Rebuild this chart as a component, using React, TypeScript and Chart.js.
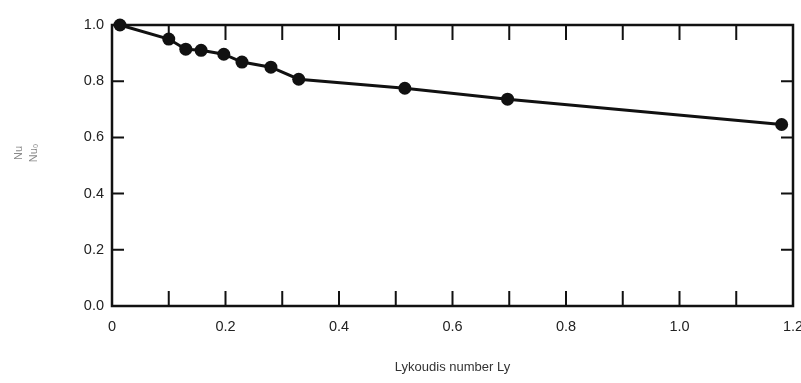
import React, { useEffect, useRef } from 'react';
import { Chart, registerables } from 'chart.js';

Chart.register(...registerables);

// Lykoudis number (x) vs Nu/Nu0 (y)
const lyValues = [0.014, 0.1, 0.13, 0.157, 0.197, 0.229, 0.28, 0.329, 0.516, 0.697, 1.18];
const nuRatio = [1.0, 0.95, 0.914, 0.91, 0.896, 0.868, 0.85, 0.807, 0.775, 0.736, 0.646];
const xTickLabels = ['0', '0.2', '0.4', '0.6', '0.8', '1.0', '1.2'];
const yTickLabels = ['0.0', '0.2', '0.4', '0.6', '0.8', '1.0'];
const xTitle = 'Lykoudis number Ly';
const yTitleTop = 'Nu';
const yTitleBottom = 'Nu\u2080';

const framePlugin = {
  id: 'frameTicks',
  beforeDatasetsDraw(chart: any) {
    const { ctx, chartArea, scales } = chart;
    const { left, right, top, bottom } = chartArea;
    const xs = scales.x;
    const ys = scales.y;
    ctx.save();
    ctx.strokeStyle = '#111';
    ctx.lineWidth = 2.5;
    ctx.strokeRect(left, top, right - left, bottom - top);
    ctx.lineWidth = 2;
    ctx.beginPath();
    xs.ticks.forEach((t: any) => {
      if (t.value <= xs.min + 1e-9 || t.value >= xs.max - 1e-9) return;
      const x = xs.getPixelForValue(t.value);
      ctx.moveTo(x, bottom);
      ctx.lineTo(x, bottom - 15);
      ctx.moveTo(x, top);
      ctx.lineTo(x, top + 15);
    });
    ys.ticks.forEach((t: any) => {
      if (t.value <= ys.min + 1e-9 || t.value >= ys.max - 1e-9) return;
      const y = ys.getPixelForValue(t.value);
      ctx.moveTo(left, y);
      ctx.lineTo(left + 12, y);
      ctx.moveTo(right, y);
      ctx.lineTo(right - 12, y);
    });
    ctx.stroke();
    ctx.restore();
  },
  afterDraw(chart: any) {
    const { ctx } = chart;
    ctx.save();
    ctx.translate(27, 153);
    ctx.rotate(-Math.PI / 2);
    ctx.fillStyle = '#888';
    ctx.font = '11px "Liberation Sans", Arial, sans-serif';
    ctx.textAlign = 'center';
    ctx.textBaseline = 'middle';
    ctx.fillText(yTitleTop, 0, -8);
    ctx.fillText(yTitleBottom, 0, 7);
    ctx.restore();
  },
};

export default function App() {
  const ref = useRef<HTMLCanvasElement | null>(null);

  useEffect(() => {
    document.body.style.margin = '0';
    const canvas = ref.current;
    if (!canvas) return;
    const tickFont = { family: '"Liberation Sans", Arial, sans-serif', size: 14.5 };
    const chart = new Chart(canvas, {
      type: 'scatter',
      data: {
        datasets: [
          {
            data: lyValues.map((x, i) => ({ x, y: nuRatio[i] })),
            showLine: true,
            borderColor: '#111',
            borderWidth: 3,
            backgroundColor: '#111',
            pointRadius: 6.5,
            pointBorderWidth: 0,
            pointBackgroundColor: '#111',
            clip: false as any,
          },
        ],
      },
      options: {
        animation: false,
        responsive: false,
        events: [],
        layout: { padding: { top: 25, right: 8, left: 0, bottom: 0 } },
        plugins: { legend: { display: false }, tooltip: { enabled: false } },
        scales: {
          x: {
            type: 'linear',
            min: 0,
            max: 1.2,
            border: { display: false },
            grid: { display: false, drawTicks: false },
            ticks: {
              stepSize: 0.1,
              autoSkip: false,
              maxRotation: 0,
              padding: 12,
              color: '#222',
              font: tickFont,
              callback: (v: any) => {
                const idx = Math.round(Number(v) * 10);
                if (idx % 2 !== 0) return '';
                return xTickLabels[idx / 2];
              },
            },
            title: {
              display: true,
              text: xTitle,
              color: '#333',
              font: { family: '"Liberation Sans", Arial, sans-serif', size: 13 },
              padding: { top: 4, bottom: 8 },
            },
            afterFit: (s: any) => {
              s.height = 77;
              s.paddingLeft = 0;
              s.paddingRight = 0;
            },
          },
          y: {
            type: 'linear',
            min: 0,
            max: 1.0,
            border: { display: false },
            grid: { display: false, drawTicks: false },
            ticks: {
              stepSize: 0.2,
              padding: 8,
              color: '#222',
              font: tickFont,
              callback: (v: any) => yTickLabels[Math.round(Number(v) * 5)],
            },
            afterFit: (s: any) => {
              s.width = 112;
              s.paddingTop = 0;
              s.paddingBottom = 0;
            },
          },
        },
      },
      plugins: [framePlugin],
    } as any);
    return () => chart.destroy();
  }, []);

  return (
    <div style={{ position: 'absolute', left: 0, top: 0, width: 801, height: 383, background: '#fff' }}>
      <canvas ref={ref} width={801} height={383} />
    </div>
  );
}
